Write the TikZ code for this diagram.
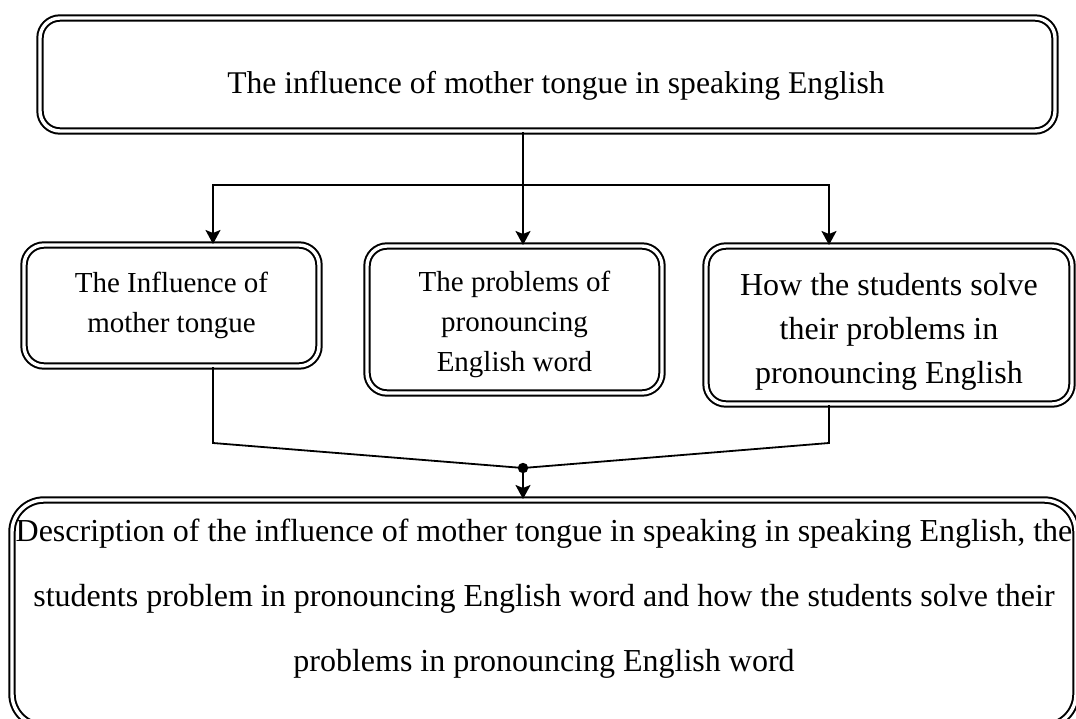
\documentclass[tikz,border=0pt]{standalone}
\usepackage{fontspec}
\setmainfont{Liberation Serif}
\usepackage{tikz}
\usetikzlibrary{calc}
\usetikzlibrary{positioning}
\usetikzlibrary{arrows.meta}

\tikzset{
	dbox/.style={draw, double, line width=1pt, double distance=1.7pt, rounded corners=10pt, align=center, inner sep=0pt},
	link/.style={line width=0.9pt},
	arr/.style={link, -{Stealth[length=7pt,width=7.5pt,inset=1.5pt]}},
}

\begin{document}
\begin{tikzpicture}[x=0.5pt, y=-0.5pt]
				\clip (0,0) rectangle (1076,718);
				\useasboundingbox (0,0) rectangle (1076,718);
				\node[dbox, minimum width=507.5pt, minimum height=56.5pt, text height=18.5pt, text depth=0pt, font=\fontsize{15.8}{20}\selectfont] (top) at (547.5,74.5) {\hspace{8.5pt}The influence of mother tongue in speaking English};
				\node[dbox, minimum width=147.5pt, minimum height=60.5pt, font=\fontsize{14.5}{20}\selectfont] (inf) at (171.5,305.5) {The Influence of\\mother tongue};
				\node[dbox, minimum width=147.5pt, minimum height=73.5pt, font=\fontsize{14.5}{20}\selectfont] (prob) at (514.5,319.5) {\rule{0pt}{15pt}The problems of\\pronouncing\\English word};
				\node[dbox, minimum width=183pt, minimum height=79pt, font=\fontsize{16}{22}\selectfont] (solve) at (889,325) {\rule{0pt}{17.5pt}How the students solve\\their problems in\\pronouncing English};
				\node[dbox, rounded corners=16pt, minimum width=532pt, minimum height=113pt, font=\fontsize{16}{32.5}\selectfont] (desc) at (544,613) {Description of the influence of mother tongue in speaking in speaking English, the\\students problem in pronouncing English word and how the students solve their\\problems in pronouncing English word\\[-15pt]};
				
				\coordinate (split) at (523,185);
				\coordinate (jn) at (523,468);
				\draw[arr]  (top.south -| split) -- (prob.north -| split);
				\draw[arr]  (split) -| (inf.north -| 213,0);
				\draw[arr]  (split) -| (solve.north -| 829,0);
				\draw[link]  (inf.south -| 213,0) -- (213,443) -- (jn);
				\draw[link]  (solve.south -| 829,0) -- (829,443) -- (jn);
				\fill (jn) circle (2.6pt);
				\draw[arr]  (jn) -- (desc.north -| jn);
			\end{tikzpicture}
\end{document}
